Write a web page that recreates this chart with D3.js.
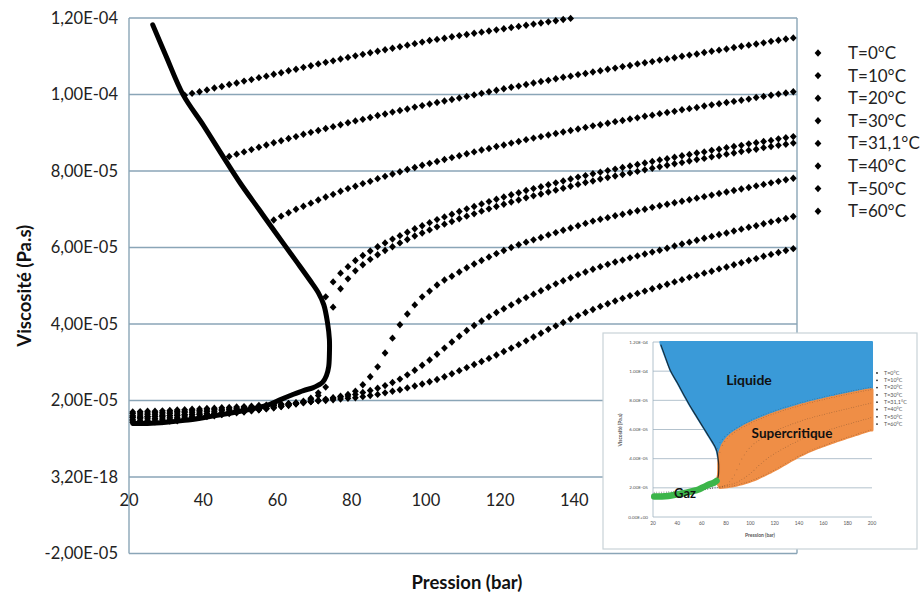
<!DOCTYPE html>
<html><head><meta charset="utf-8">
<script src="https://cdn.jsdelivr.net/npm/d3@7"></script>
<style>body{margin:0;background:#fff}svg{display:block;font-family:Lato,"Open Sans",sans-serif}</style>
</head><body><svg id="c" width="924" height="595"></svg>
<script>
// ---------- DATA (viscosity in units of 1e-5 Pa.s) ----------
const pressures = [21,23,25,27,29,31,33,35,37,39,41,43,45,47,49,51,53,55,57,59,61,63,65,67,69,71,73,75,77,79,81,83,85,87,89,91,93,95,97,99,101,103,105,107,109,111,113,115,117,119,121,123,125,127,129,131,133,135,137,139,141,143,145,147,149,151,153,155,157,159,161,163,165,167,169,171,173,175,177,179,181,183,185,187,189,191,193,195,197,199];
const seriesNames = ["T=0°C","T=10°C","T=20°C","T=30°C","T=31,1°C","T=40°C","T=50°C","T=60°C"];
const visc_T0 = [1.43,1.43,1.44,1.44,1.45,1.46,1.47,9.98,10.03,10.07,10.12,10.17,10.21,10.26,10.30,10.35,10.39,10.44,10.48,10.53,10.57,10.62,10.66,10.71,10.75,10.80,10.84,10.88,10.93,10.97,11.01,11.05,11.09,11.13,11.17,11.21,11.25,11.29,11.33,11.37,11.41,11.44,11.47,11.51,11.54,11.57,11.60,11.63,11.66,11.69,11.72,11.75,11.78,11.81,11.84,11.87,11.90,11.93,11.96,11.99];
const visc_T10 = [1.47,1.47,1.48,1.49,1.50,1.51,1.52,1.53,1.54,1.56,1.58,1.60,1.63,
 8.38,8.44,8.50,8.56,8.62,8.68,8.74,8.79,8.85,8.90,8.96,9.01,9.06,9.11,9.16,9.21,9.26,9.31,9.35,9.40,9.45,9.49,9.54,9.58,9.62,9.67,9.71,9.75,9.79,9.83,9.87,9.91,9.95,9.99,10.03,10.07,10.11,10.15,10.19,10.22,10.26,10.30,10.34,10.37,10.41,10.45,10.48,10.52,10.55,10.59,10.62,10.66,10.69,10.73,10.76,10.80,10.83,10.86,10.90,10.93,10.96,11.00,11.03,11.06,11.10,11.13,11.16,11.19,11.23,11.26,11.29,11.32,11.35,11.39,11.42,11.45,11.48];
const visc_T20 = [1.51,1.52,1.52,1.53,1.54,1.55,1.56,1.57,1.58,1.59,1.61,1.62,1.64,1.66,1.68,1.70,1.73,1.76,1.80,
 6.72,6.82,6.91,7.00,7.08,7.16,7.24,7.32,7.39,7.47,7.54,7.60,7.67,7.73,7.80,7.86,7.92,7.98,8.04,8.09,8.15,8.20,8.25,8.30,8.35,8.40,8.45,8.50,8.55,8.59,8.64,8.68,8.73,8.77,8.82,8.86,8.90,8.94,8.98,9.02,9.06,9.10,9.14,9.18,9.21,9.25,9.29,9.32,9.36,9.39,9.43,9.46,9.50,9.53,9.56,9.60,9.63,9.66,9.70,9.73,9.76,9.79,9.82,9.85,9.88,9.92,9.95,9.98,10.01,10.04,10.07];
const visc_T30 = [1.56,1.56,1.57,1.58,1.59,1.60,1.61,1.62,1.63,1.64,1.65,1.66,1.68,1.69,1.71,1.72,1.74,1.76,1.78,1.81,1.84,1.88,1.92,1.98,2.06,2.20,
 4.71,5.10,5.33,5.50,5.66,5.79,5.91,6.02,6.12,6.22,6.31,6.40,6.49,6.57,6.65,6.73,6.80,6.87,6.94,7.01,7.07,7.14,7.20,7.26,7.32,7.38,7.43,7.49,7.54,7.59,7.64,7.69,7.74,7.79,7.84,7.88,7.93,7.97,8.01,8.05,8.09,8.13,8.17,8.21,8.25,8.29,8.32,8.36,8.40,8.43,8.47,8.50,8.54,8.57,8.61,8.64,8.67,8.71,8.74,8.77,8.80,8.84,8.87,8.90];
const visc_T31 = [1.57,1.57,1.58,1.59,1.60,1.61,1.62,1.63,1.64,1.65,1.66,1.67,1.68,1.70,1.71,1.73,1.75,1.77,1.79,1.81,1.84,1.87,1.91,1.96,2.03,2.13,2.35,
 4.44,4.92,5.18,5.39,5.55,5.69,5.81,5.92,6.02,6.12,6.21,6.30,6.38,6.46,6.54,6.61,6.68,6.75,6.82,6.88,6.95,7.01,7.07,7.13,7.19,7.24,7.30,7.35,7.40,7.45,7.50,7.55,7.60,7.65,7.70,7.74,7.79,7.83,7.87,7.91,7.95,7.99,8.03,8.07,8.11,8.15,8.19,8.22,8.26,8.30,8.33,8.37,8.40,8.44,8.47,8.51,8.54,8.57,8.61,8.64,8.67,8.70,8.73];
const visc_T40 = [1.61,1.62,1.63,1.64,1.65,1.66,1.67,1.68,1.69,1.70,1.71,1.72,1.74,1.75,1.77,1.78,1.80,1.82,1.84,1.86,1.88,1.90,1.92,1.94,1.97,2.00,2.03,2.07,2.11,2.16,2.24,2.41,
 2.62,2.88,3.24,3.63,3.98,4.26,4.50,4.71,4.86,5.02,5.15,5.25,5.36,5.47,5.57,5.66,5.75,5.84,5.92,6.00,6.07,6.14,6.20,6.26,6.33,6.39,6.45,6.51,6.57,6.63,6.69,6.74,6.78,6.83,6.87,6.92,6.96,7.00,7.05,7.09,7.13,7.17,7.21,7.25,7.29,7.33,7.37,7.41,7.45,7.49,7.53,7.57,7.61,7.65,7.69,7.73,7.77,7.81];
const visc_T50 = [1.66,1.67,1.67,1.68,1.69,1.70,1.71,1.72,1.73,1.74,1.75,1.76,1.77,1.78,1.80,1.81,1.82,1.84,1.85,1.87,1.89,1.91,1.93,1.95,1.97,2.00,2.03,2.06,2.09,2.12,
 2.16,2.21,2.26,2.32,2.39,2.47,2.56,2.67,2.79,2.92,3.06,3.21,3.37,3.53,3.68,3.83,3.96,4.08,4.19,4.30,4.40,4.50,4.60,4.69,4.78,4.87,4.96,5.05,5.13,5.21,5.29,5.36,5.43,5.50,5.56,5.62,5.67,5.73,5.78,5.83,5.88,5.93,5.98,6.04,6.09,6.14,6.19,6.24,6.29,6.34,6.38,6.43,6.48,6.53,6.57,6.62,6.67,6.71,6.76,6.81];
const visc_T60 = [1.70,1.71,1.72,1.72,1.73,1.74,1.75,1.76,1.77,1.78,1.79,1.80,1.81,1.82,1.83,1.84,1.85,1.87,1.88,1.89,1.91,1.92,1.94,1.95,1.97,1.99,2.00,2.02,2.04,2.06,
 2.07,2.10,2.13,2.16,2.20,2.24,2.28,2.33,2.38,2.43,2.49,2.55,2.62,2.70,2.78,2.86,2.94,3.02,3.10,3.19,3.28,3.37,3.46,3.56,3.66,3.76,3.86,3.95,4.04,4.13,4.22,4.30,4.38,4.46,4.53,4.60,4.67,4.74,4.80,4.86,4.92,4.98,5.04,5.10,5.16,5.22,5.27,5.33,5.38,5.44,5.49,5.55,5.60,5.66,5.71,5.77,5.82,5.87,5.92,5.97];
// saturation curve (thick black line)
const satP = [26.4,30,34.6,40,45.4,50,55,60,65,68.7,71,72.5,73.5,74.0,74.0,73.8,73.2,72.2,71,69.5,67,64,61,58,55,50,45,40,35,30,25,21];
const satV = [11.82,11.0,9.99,9.2,8.37,7.68,7.0,6.32,5.65,5.15,4.82,4.5,4.03,3.6,3.2,2.88,2.65,2.48,2.4,2.33,2.26,2.15,2.03,1.9,1.82,1.72,1.63,1.55,1.48,1.43,1.40,1.40];
// axes
const yTickValues = [-2,0,2,4,6,8,10,12];
const yTickLabels = ["-2,00E-05","3,20E-18","2,00E-05","4,00E-05","6,00E-05","8,00E-05","1,00E-04","1,20E-04"];
const xTickValues = [20,40,60,80,100,120,140,160,180,200];
const insetYTickValues = [0,2,4,6,8,10,12];
const insetYTickLabels = ["0.00E+00","2.00E-05","4.00E-05","6.00E-05","8.00E-05","1.00E-04","1.20E-04"];
const regionLabels = ["Liquide","Supercritique","Gaz"];

const allSeries = [visc_T0,visc_T10,visc_T20,visc_T30,visc_T31,visc_T40,visc_T50,visc_T60];

// ---------- DRAW ----------
const svg = d3.select("#c");
const gridColor = "#8aa5b7";
const x = d3.scaleLinear().domain([20,200]).range([129,797]);
const y = d3.scaleLinear().domain([-2,12]).range([553.5,18]);

const g = svg.append("g");
g.selectAll("line.grid").data(yTickValues).join("line")
  .attr("x1",x(20)).attr("x2",x(200)).attr("y1",d=>y(d)).attr("y2",d=>y(d))
  .attr("stroke",gridColor).attr("stroke-width",1.4);
[20,200].forEach(v=>g.append("line").attr("x1",x(v)).attr("x2",x(v)).attr("y1",y(12)).attr("y2",y(-2))
  .attr("stroke",gridColor).attr("stroke-width",1.4));

g.selectAll("text.yt").data(yTickValues).join("text")
  .attr("x",118).attr("y",d=>y(d)).attr("dy","0.35em").attr("text-anchor","end")
  .attr("font-size",16.5).attr("fill","#222").text((d,i)=>yTickLabels[i]);
g.selectAll("text.xt").data(xTickValues).join("text")
  .attr("x",d=>x(d)).attr("y",y(0)+29).attr("text-anchor","middle")
  .attr("font-size",16.5).attr("fill","#222").text(d=>d);

svg.append("text").attr("x",(x(20)+x(200))/2+4).attr("y",589).attr("text-anchor","middle")
  .attr("font-size",18.5).attr("font-weight","bold").attr("fill","#111").text("Pression (bar)");
svg.append("text").attr("transform",`translate(31,${(y(12)+y(-2))/2}) rotate(-90)`).attr("text-anchor","middle")
  .attr("font-size",18.5).attr("font-weight","bold").attr("fill","#111").text("Viscosité (Pa.s)");

const diamond = "M0,-3.7L3.4,0L0,3.7L-3.4,0Z";
allSeries.forEach((arr)=>{
  g.append("g").selectAll("path").data(arr).join("path")
    .attr("d",diamond).attr("fill","#000")
    .attr("transform",(d,i)=>`translate(${x(pressures[i])},${y(d)})`);
});

const satLine = d3.line().x(d=>x(d[0])).y(d=>y(d[1])).curve(d3.curveCatmullRom.alpha(0.5));
g.append("path").attr("d",satLine(satP.map((p,i)=>[p,satV[i]])))
  .attr("fill","none").attr("stroke","#000").attr("stroke-width",5)
  .attr("stroke-linejoin","round").attr("stroke-linecap","round");

const leg = svg.append("g");
seriesNames.forEach((n,i)=>{
  const ly = 53 + i*22.6;
  leg.append("path").attr("d",diamond).attr("transform",`translate(818,${ly})`).attr("fill","#000");
  leg.append("text").attr("x",848).attr("y",ly).attr("dy","0.35em").attr("font-size",17).attr("fill","#222").text(n);
});

// ---------- INSET ----------
const ins = svg.append("g");
ins.append("rect").attr("x",603).attr("y",333).attr("width",314).attr("height",216)
  .attr("fill","#fff").attr("stroke","#c9d3d8").attr("stroke-width",1.2);
const ix = d3.scaleLinear().domain([20,200]).range([653,872]);
const iy = d3.scaleLinear().domain([0,12]).range([517,342]);
ins.selectAll("line.ig").data(insetYTickValues).join("line")
  .attr("x1",ix(20)).attr("x2",ix(200)).attr("y1",d=>iy(d)).attr("y2",d=>iy(d))
  .attr("stroke","#9fb3c0").attr("stroke-width",0.8);
ins.append("line").attr("x1",ix(20)).attr("x2",ix(20)).attr("y1",iy(12)).attr("y2",iy(0))
  .attr("stroke","#9fb3c0").attr("stroke-width",0.8);
ins.selectAll("text.iyt").data(insetYTickValues).join("text")
  .attr("x",648).attr("y",d=>iy(d)).attr("dy","0.35em").attr("text-anchor","end")
  .attr("font-size",4.6).attr("fill","#555").text((d,i)=>insetYTickLabels[i]);
ins.selectAll("text.ixt").data(xTickValues).join("text")
  .attr("x",d=>ix(d)).attr("y",iy(0)+8).attr("text-anchor","middle")
  .attr("font-size",4.8).attr("fill","#555").text(d=>d);
ins.append("text").attr("x",760).attr("y",537).attr("text-anchor","middle").attr("font-size",5)
  .attr("font-weight","bold").attr("fill","#555").text("Pression (bar)");
ins.append("text").attr("transform","translate(622,430) rotate(-90)").attr("text-anchor","middle")
  .attr("font-size",5).attr("font-weight","bold").attr("fill","#555").text("Viscosité (Pa.s)");

const iPt = (p,v)=>[ix(p),iy(v)];
const i31 = pressures.findIndex(p=>p===75);
const bluePts = [iPt(26,12)]
  .concat(satP.slice(0,14).map((p,i)=>iPt(p,satV[i])))
  .concat(pressures.slice(i31).map((p,i)=>iPt(p,visc_T31[i31+i])))
  .concat([iPt(200,visc_T31[visc_T31.length-1]),iPt(200,12)]);
const orangePts = satP.slice(13,18).map((p,i)=>iPt(p,satV[13+i])).reverse()
  .concat(pressures.slice(i31).map((p,i)=>iPt(p,visc_T31[i31+i])))
  .concat([iPt(200,visc_T31[visc_T31.length-1]),iPt(200,visc_T60[visc_T60.length-1])])
  .concat(pressures.slice(i31).map((p,i)=>iPt(p,visc_T60[i31+i])).reverse());
const poly = d3.line().curve(d3.curveLinearClosed);
ins.append("path").attr("d",poly(bluePts)).attr("fill","#3a9ad8").attr("stroke","#3a9ad8").attr("stroke-width",2).attr("stroke-linejoin","round");
ins.append("path").attr("d",poly(orangePts)).attr("fill","#ef8e46").attr("stroke","#ef8e46").attr("stroke-width",3).attr("stroke-linejoin","round");
[visc_T30,visc_T31,visc_T40,visc_T50,visc_T60].forEach(arr=>{
  ins.append("g").selectAll("circle").data(arr).join("circle")
    .attr("cx",(d,i)=>ix(pressures[i])).attr("cy",d=>iy(d)).attr("r",0.45)
    .attr("fill","#222").attr("opacity",0.45);
});
const iSat = d3.line().x(d=>ix(d[0])).y(d=>iy(d[1])).curve(d3.curveCatmullRom.alpha(0.5));
ins.append("path").attr("d",iSat(satP.slice(0,20).map((p,i)=>[p,satV[i]])))
  .attr("fill","none").attr("stroke","#111").attr("stroke-width",1.2).attr("opacity",0.8);
ins.append("path").attr("d",iSat(satP.slice(17).map((p,i)=>[p,satV[17+i]])))
  .attr("fill","none").attr("stroke","#3cb54a").attr("stroke-width",6.5)
  .attr("stroke-linecap","round").attr("stroke-linejoin","round");
ins.append("text").attr("x",749).attr("y",380).attr("dy","0.35em").attr("text-anchor","middle")
  .attr("font-size",14).attr("font-weight","bold").attr("fill","#111").text(regionLabels[0]);
ins.append("text").attr("x",792).attr("y",433).attr("dy","0.35em").attr("text-anchor","middle")
  .attr("font-size",13.5).attr("font-weight","bold").attr("fill","#111").text(regionLabels[1]);
ins.append("text").attr("x",685).attr("y",493).attr("dy","0.35em").attr("text-anchor","middle")
  .attr("font-size",13).attr("font-weight","bold").attr("fill","#111").text(regionLabels[2]);
seriesNames.forEach((n,i)=>{
  const ly = 373 + i*7.3;
  ins.append("circle").attr("cx",877).attr("cy",ly).attr("r",0.9).attr("fill","#222");
  ins.append("text").attr("x",884).attr("y",ly).attr("dy","0.35em").attr("font-size",5.4).attr("fill","#555").text(n);
});
</script></body></html>
